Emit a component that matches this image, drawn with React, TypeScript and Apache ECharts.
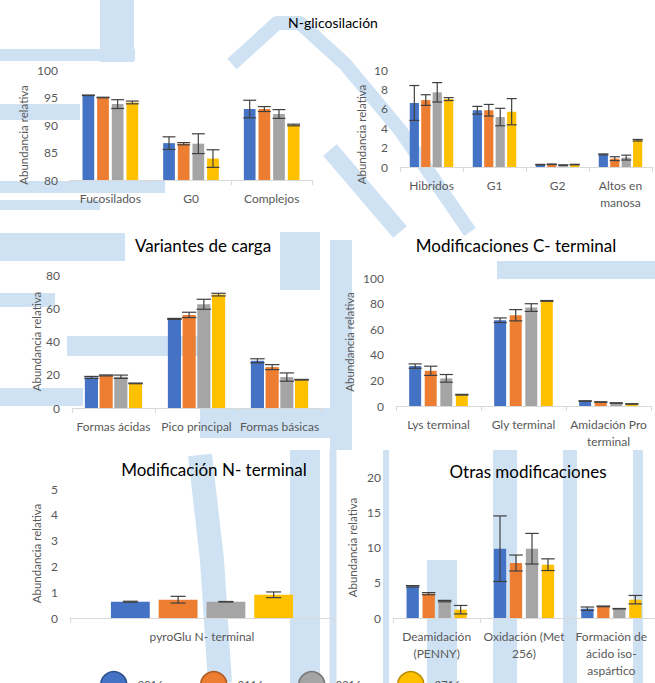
import React, { useEffect, useRef } from "react";
import * as echarts from "echarts";

const seriesNames = ["2016", "2116", "2216", "2716"];
const barColors = ["#4472C4", "#ED7D31", "#A5A5A5", "#FFC000"];
const legendBorders = ["#2F528F", "#AE5A21", "#787878", "#BC8C00"];

// N-glicosilación (A)
const glycoACats = ["Fucosilados", "G0", "Complejos"];
const glycoAValues = [
  [95.4, 86.7, 92.9],
  [95.0, 86.6, 92.9],
  [93.8, 86.6, 92.0],
  [94.1, 83.9, 90.0],
];
const glycoAErrors = [
  [0.05, 1.15, 1.6],
  [0.05, 0.2, 0.45],
  [0.8, 1.8, 0.8],
  [0.25, 1.6, 0.15],
];
const glycoATicks = [80, 100, 5];

// N-glicosilación (B)
const glycoBCats = ["Hibridos", "G1", "G2", "Altos en\nmanosa"];
const glycoBValues = [
  [6.6, 5.85, 0.24, 1.3],
  [6.9, 5.85, 0.28, 0.86],
  [7.7, 5.15, 0.2, 0.97],
  [7.0, 5.7, 0.25, 2.76],
];
const glycoBErrors = [
  [1.8, 0.4, 0.03, 0.05],
  [0.55, 0.6, 0.03, 0.2],
  [1.0, 0.9, 0.02, 0.25],
  [0.15, 1.35, 0.03, 0.08],
];
const glycoBTicks = [0, 10, 2];

// Variantes de carga
const chargeCats = ["Formas ácidas", "Pico principal", "Formas básicas"];
const chargeValues = [
  [18.4, 53.6, 28.4],
  [19.6, 56.0, 24.6],
  [18.8, 62.4, 18.6],
  [14.8, 68.2, 17.0],
];
const chargeErrors = [
  [0.6, 0.3, 1.2],
  [0.3, 1.6, 1.5],
  [1.0, 3.0, 2.5],
  [0.2, 0.8, 0.2],
];
const chargeTicks = [0, 80, 20];

// Modificaciones C- terminal
const cTermCats = ["Lys terminal", "Gly terminal", "Amidación Pro\nterminal"];
const cTermValues = [
  [31.2, 67.0, 3.9],
  [27.5, 70.9, 3.1],
  [21.6, 76.9, 2.3],
  [8.8, 82.1, 1.6],
];
const cTermErrors = [
  [1.7, 1.8, 0.2],
  [3.6, 4.4, 0.2],
  [3.0, 3.0, 0.2],
  [0.3, 0.3, 0.2],
];
const cTermTicks = [0, 100, 20];

// Modificación N- terminal
const nTermCats = ["pyroGlu N- terminal"];
const nTermValues = [[0.63], [0.71], [0.63], [0.9]];
const nTermErrors = [[0.02], [0.13], [0.01], [0.11]];
const nTermTicks = [0, 5, 1];

// Otras modificaciones
const otherCats = ["Deamidación\n(PENNY)", "Oxidación (Met\n256)", "Formación de\nácido iso-\naspártico"];
const otherValues = [
  [4.5, 9.83, 1.32],
  [3.45, 7.8, 1.65],
  [2.4, 9.83, 1.32],
  [1.18, 7.56, 2.6],
];
const otherErrors = [
  [0.1, 4.65, 0.24],
  [0.15, 1.13, 0.05],
  [0.1, 2.17, 0.03],
  [0.6, 0.83, 0.6],
];
const otherTicks = [0, 20, 5];

const FONT = "Lato, 'Open Sans', sans-serif";

const panels = [
  { title: "N-glicosilación", tx: 328, ty: 10, tsize: 14, cats: glycoACats, values: glycoAValues, errors: glycoAErrors, ticks: glycoATicks,
    grid: { left: 70, top: 70, width: 242, height: 110 }, nameGap: 41, nameShift: 10, barGap: 0.25 },
  { title: "", tx: 0, ty: 0, tsize: 14, cats: glycoBCats, values: glycoBValues, errors: glycoBErrors, ticks: glycoBTicks,
    grid: { left: 400, top: 70, width: 252, height: 97 }, nameGap: 33, nameShift: 16, barGap: 0.25 },
  { title: "Variantes de carga", tx: 198, ty: 232, tsize: 17, cats: chargeCats, values: chargeValues, errors: chargeErrors, ticks: chargeTicks,
    grid: { left: 72, top: 275, width: 249, height: 133 }, nameGap: 30, nameShift: 0, barGap: 0.12 },
  { title: "Modificaciones C- terminal", tx: 511, ty: 232, tsize: 17, cats: cTermCats, values: cTermValues, errors: cTermErrors, ticks: cTermTicks,
    grid: { left: 396, top: 278, width: 255, height: 128 }, nameGap: 41, nameShift: 0, barGap: 0.3 },
  { title: "Modificación N- terminal", tx: 209, ty: 456, tsize: 17, cats: nTermCats, values: nTermValues, errors: nTermErrors, ticks: nTermTicks,
    grid: { left: 70, top: 489, width: 264, height: 129 }, nameGap: 28, nameShift: 0, barGap: 0.23 },
  { title: "Otras modificaciones", tx: 523, ty: 458, tsize: 17, cats: otherCats, values: otherValues, errors: otherErrors, ticks: otherTicks,
    grid: { left: 393, top: 477, width: 264, height: 141 }, nameGap: 35, nameShift: 0, barGap: 0.3 },
];

const CAT_GAP = 0.31;

// decorative watermark bands behind the charts
const BG = "#cfe2f4";
const bgBands: { pts: number[][]; w: number }[] = [
  { pts: [[0, 55], [135, 55]], w: 12 },
  { pts: [[117, 0], [117, 62]], w: 34 },
  { pts: [[232, 64], [277, 23], [300, 23], [345, 64], [400, 130], [470, 232]], w: 14 },
  { pts: [[330, 150], [400, 232]], w: 18 },
  { pts: [[0, 112], [80, 112]], w: 16 },
  { pts: [[0, 187], [165, 187]], w: 12 },
  { pts: [[0, 205], [100, 205]], w: 10 },
  { pts: [[0, 247], [125, 247]], w: 28 },
  { pts: [[300, 232], [300, 290]], w: 40 },
  { pts: [[0, 300], [55, 300]], w: 14 },
  { pts: [[67, 346], [207, 346]], w: 20 },
  { pts: [[0, 397], [83, 397]], w: 18 },
  { pts: [[200, 423], [330, 423]], w: 30 },
  { pts: [[341, 240], [341, 450]], w: 22 },
  { pts: [[497, 270], [655, 270]], w: 18 },
  { pts: [[200, 455], [212, 560], [220, 683]], w: 24 },
  { pts: [[305, 450], [305, 683]], w: 30 },
  { pts: [[333, 450], [333, 683]], w: 7 },
  { pts: [[386, 450], [386, 683]], w: 6 },
  { pts: [[442, 560], [442, 683]], w: 30 },
  { pts: [[505, 450], [505, 683]], w: 24 },
  { pts: [[570, 450], [570, 683]], w: 14 },
  { pts: [[638, 450], [638, 683]], w: 10 },
];

export default function App() {
  const ref = useRef<HTMLDivElement>(null);
  useEffect(() => {
    if (!ref.current) return;
    const chart = echarts.init(ref.current, null, { renderer: "svg" });
    const grids: any[] = [];
    const xAxes: any[] = [];
    const yAxes: any[] = [];
    const series: any[] = [];
    const titles: any[] = [];
    panels.forEach((p, pi) => {
      grids.push({ ...p.grid, containLabel: false });
      xAxes.push({
        type: "category", gridIndex: pi, data: p.cats,
        axisLine: { lineStyle: { color: "#d9d9d9", width: 1 } },
        axisTick: { show: true, length: 5, lineStyle: { color: "#d9d9d9" } },
        axisLabel: { interval: 0, color: "#595959", fontSize: 12, fontFamily: FONT, margin: 10, lineHeight: 17 },
      });
      yAxes.push({
        type: "value", gridIndex: pi, min: p.ticks[0], max: p.ticks[1], interval: p.ticks[2],
        name: "Abundancia relativa", nameLocation: "middle", nameGap: p.nameGap,
        nameTextStyle: { color: "#595959", fontSize: 11.5, fontFamily: FONT, padding: [0, p.nameShift * 2, 0, 0] },
        axisLine: { show: false }, axisTick: { show: false }, splitLine: { show: false },
        axisLabel: { color: "#595959", fontSize: 12, fontFamily: FONT, margin: 12 },
      });
      if (p.title) {
        titles.push({ text: p.title, left: p.tx, top: p.ty, textAlign: "center",
          textStyle: { color: "#000", fontSize: p.tsize, fontWeight: "normal", fontFamily: FONT } });
      }
      const n = seriesNames.length;
      seriesNames.forEach((name, si) => {
        series.push({
          type: "bar", name, xAxisIndex: pi, yAxisIndex: pi,
          data: p.values[si], barGap: `${p.barGap * 100}%`, barCategoryGap: `${CAT_GAP * 100}%`,
          itemStyle: { color: barColors[si] }, z: 2,
        });
      });
      const errData: number[][] = [];
      p.values.forEach((vals, si) => vals.forEach((v, ci) => errData.push([ci, si, v, p.errors[si][ci]])));
      series.push({
        type: "custom", xAxisIndex: pi, yAxisIndex: pi, z: 5, silent: true,
        encode: { x: 0, y: 2 }, data: errData,
        renderItem: (params: any, api: any) => {
          const ci = api.value(0), si = api.value(1), v = api.value(2), e = api.value(3);
          const base = api.coord([ci, v]);
          const band = api.size([1, 0])[0];
          const groupW = band * (1 - CAT_GAP);
          const bw = groupW / (n + (n - 1) * p.barGap);
          const cx = base[0] - groupW / 2 + bw / 2 + si * bw * (1 + p.barGap);
          const yTop = api.coord([ci, v + e])[1];
          const yBot = api.coord([ci, v - e])[1];
          const hw = Math.min(bw * 0.55, 7.5);
          const st = { stroke: "#404040", lineWidth: 1.2 };
          return {
            type: "group",
            children: [
              { type: "line", shape: { x1: cx, y1: yTop, x2: cx, y2: yBot }, style: st },
              { type: "line", shape: { x1: cx - hw, y1: yTop, x2: cx + hw, y2: yTop }, style: st },
              { type: "line", shape: { x1: cx - hw, y1: yBot, x2: cx + hw, y2: yBot }, style: st },
            ],
          };
        },
      });
    });

    const legendLefts = [95, 195, 293, 392];
    const legends = seriesNames.map((name, i) => ({
      left: legendLefts[i], top: 666, itemWidth: 26, itemHeight: 26, selectedMode: false,
      data: [{ name, icon: "circle", itemStyle: { color: barColors[i], borderColor: legendBorders[i], borderWidth: 1.5 } }],
      textStyle: { color: "#595959", fontSize: 11, fontFamily: FONT, padding: [16, 0, 0, 6] },
    }));

    const graphic: any[] = [
      { type: "rect", z: -10, silent: true, shape: { x: 0, y: 0, width: 655, height: 683 }, style: { fill: "#fff" } },
      ...bgBands.map((b) => ({
        type: "polyline", z: -9, silent: true, shape: { points: b.pts },
        style: { stroke: BG, lineWidth: b.w, fill: null, lineJoin: "round" },
      })),
    ];

    chart.setOption({
      animation: false,
      backgroundColor: "#fff",
      textStyle: { fontFamily: FONT },
      title: titles,
      grid: grids,
      xAxis: xAxes,
      yAxis: yAxes,
      legend: legends,
      graphic,
      series,
    });
    return () => chart.dispose();
  }, []);
  return <div ref={ref} style={{ position: "fixed", left: 0, top: 0, width: 655, height: 683 }} />;
}
